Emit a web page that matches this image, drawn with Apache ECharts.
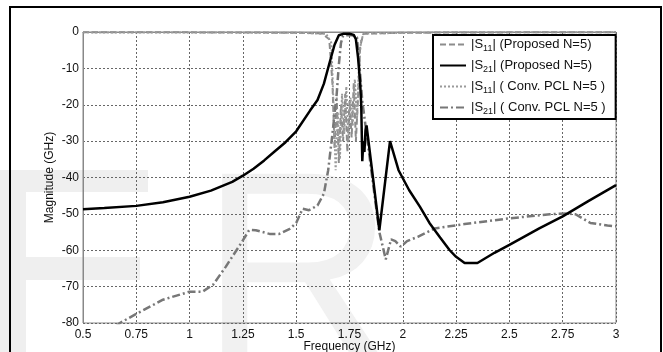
<!DOCTYPE html>
<html><head><meta charset="utf-8">
<script src="https://cdn.jsdelivr.net/npm/echarts@6/dist/echarts.min.js"></script>
<style>html,body{margin:0;padding:0;background:#fff}#c{width:663px;height:352px}</style>
</head><body><div id="c"></div>
<script>
var xTicks = ['0.5','0.75','1','1.25','1.5','1.75','2','2.25','2.5','2.75','3'];
var yTicks = ['-80','-70','-60','-50','-40','-30','-20','-10','0'];
var seriesNames = ['|S{sub|11}| (Proposed N=5)','|S{sub|21}| (Proposed N=5)','|S{sub|11}| ( Conv. PCL N=5 )','|S{sub|21}| ( Conv. PCL N=5 )'];

var s11PropF = [0.5,1.0,1.5,1.62,1.655,1.67,1.68,1.69,1.70,1.71,1.72,1.73,1.74,1.75,1.76,1.77,1.78,1.79,1.80,1.815,2.0,2.5,3.0];
var s11PropV = [-0.1,-0.1,-0.2,-0.4,-2,-14,-32,-18,-36,-20,-30,-17,-33,-19,-29,-14,-30,-18,-4,-0.5,-0.2,-0.1,-0.1];

var s21PropF = [0.5,0.6,0.75,0.875,1.0,1.1,1.2,1.25,1.3,1.35,1.4,1.45,1.5,1.565,1.6,1.63,1.66,1.68,1.70,1.72,1.75,1.77,1.78,1.79,1.80,1.805,1.81,1.815,1.82,1.825,1.83,1.86,1.89,1.94,1.98,2.03,2.08,2.125,2.175,2.22,2.25,2.29,2.35,2.43,2.5,2.64,2.75,2.87,3.0];
var s21PropV = [-48.7,-48.4,-47.8,-46.8,-45.3,-43.6,-41.2,-39.5,-37.6,-35.3,-32.8,-30.3,-27.3,-21.6,-18.7,-14.2,-7.7,-3.5,-0.9,-0.5,-0.5,-0.8,-2,-7,-14,-20,-35.5,-30,-33,-27,-25.7,-40,-54.5,-30,-38,-43.5,-48,-52.5,-56.5,-60,-61.8,-63.5,-63.5,-60.7,-58.5,-54,-50.7,-46.5,-42.1];

var s11ConvF = [0.5,1.5,1.64,1.665,1.675,1.685,1.695,1.705,1.715,1.725,1.735,1.745,1.755,1.765,1.775,1.785,1.795,1.805,1.82,2.2,3.0];
var s11ConvV = [-0.1,-0.2,-0.5,-3,-20,-38,-22,-35,-17,-28,-15,-30,-18,-26,-13,-24,-8,-2,-0.4,-0.1,-0.1];

var s21ConvF = [0.6,0.673,0.75,0.875,1.0,1.06,1.11,1.17,1.24,1.28,1.31,1.375,1.42,1.47,1.5,1.53,1.56,1.6,1.63,1.65,1.67,1.69,1.70,1.71,1.72,1.76,1.785,1.795,1.81,1.85,1.89,1.92,1.945,1.965,1.99,2.02,2.07,2.15,2.29,2.49,2.69,2.77,2.81,2.88,2.96,3.0];
var s21ConvV = [-84,-80,-77.5,-73.6,-71.4,-71.4,-69.5,-64.5,-58.2,-54.4,-54.5,-55.5,-55.5,-54.1,-52.5,-48.6,-49,-47.7,-44.4,-38,-28,-17,-9,-3,-1,-0.8,-1.5,-8,-19,-37,-55,-62.5,-57,-57.5,-59,-57.5,-56.3,-54,-52.8,-51.3,-50.1,-49.9,-50.1,-52.5,-53.2,-53.4];

function zip(f, v){ var out=[]; for(var i=0;i<f.length;i++) out.push([f[i], v[i]]); return out; }

var chart = echarts.init(document.getElementById('c'), null, {renderer:'canvas'});
var font = 'Liberation Sans, Arial, sans-serif';
var gridLine = {show:true, lineStyle:{color:'#666', type:[2,2], width:1}};
var option = {
  animation:false,
  backgroundColor:'#fff',
  textStyle:{fontFamily:font},
  graphic:[
    {type:'rect', z:-10, shape:{x:0,y:170,width:26,height:182}, style:{fill:'#efefef'}},
    {type:'rect', z:-10, shape:{x:0,y:170,width:148,height:22}, style:{fill:'#efefef'}},
    {type:'rect', z:-10, shape:{x:0,y:257,width:140,height:23}, style:{fill:'#efefef'}},
    {type:'text', z:-10, left:200, top:150, style:{text:'R', fontSize:270, fontFamily:font, fill:'#f1f1f1'}},
    {type:'rect', z:100, shape:{x:10,y:7,width:651,height:352}, style:{fill:'none', stroke:'#000', lineWidth:2}}
  ],
  grid:{left:83, right:47, top:32, bottom:29, outerBoundsMode:'none', containLabel:false,
    show:true, borderColor:'#888', borderWidth:1, backgroundColor:'transparent'},
  xAxis:{type:'value', min:0.5, max:3, interval:0.25,
    name:'Frequency (GHz)', nameLocation:'middle', nameGap:18, nameMoveOverlap:false,
    nameTextStyle:{fontSize:12, color:'#111', fontFamily:font},
    axisLine:{lineStyle:{color:'#888'}}, axisTick:{show:false},
    axisLabel:{fontSize:12, color:'#111', margin:6, fontFamily:font,
      formatter:function(v){ var i=Math.round((v-0.5)/0.25); return xTicks[i]; }},
    splitLine:gridLine},
  yAxis:{type:'value', min:-80, max:0, interval:10,
    name:'Magnitude (GHz)', nameLocation:'middle', nameGap:27, nameMoveOverlap:false,
    nameTextStyle:{fontSize:12, color:'#111', fontFamily:font},
    axisLine:{show:true, lineStyle:{color:'#888'}}, axisTick:{show:false},
    axisLabel:{fontSize:12, color:'#111', margin:4, fontFamily:font,
      formatter:function(v){ var i=Math.round((v+80)/10); return yTicks[i]; }},
    splitLine:gridLine},
  legend:{left:433, top:35, orient:'vertical', itemWidth:26, itemHeight:14, itemGap:6,
    padding:[3,10,3,6], backgroundColor:'#fff', borderColor:'#000', borderWidth:2,
    itemStyle:{opacity:0},
    textStyle:{fontSize:13, color:'#111', fontFamily:font,
      rich:{sub:{fontSize:9, padding:[8,0,0,0], color:'#111', fontFamily:font}}},
    data:seriesNames},
  series:[
    {name:seriesNames[0], type:'line', symbol:'none', data:zip(s11PropF,s11PropV), z:3,
      lineStyle:{color:'#8c8c8c', width:2, type:[6,3]}, itemStyle:{color:'#8c8c8c'}},
    {name:seriesNames[1], type:'line', symbol:'none', data:zip(s21PropF,s21PropV), z:5,
      lineStyle:{color:'#000', width:2.5}, itemStyle:{color:'#000'}},
    {name:seriesNames[2], type:'line', symbol:'none', data:zip(s11ConvF,s11ConvV), z:3,
      lineStyle:{color:'#9a9a9a', width:2, type:[2,2]}, itemStyle:{color:'#9a9a9a'}},
    {name:seriesNames[3], type:'line', symbol:'none', data:zip(s21ConvF,s21ConvV), z:4,
      lineStyle:{color:'#777', width:2.5, type:[8,3,2,3]}, itemStyle:{color:'#777'}}
  ]
};
chart.setOption(option);
</script></body></html>
